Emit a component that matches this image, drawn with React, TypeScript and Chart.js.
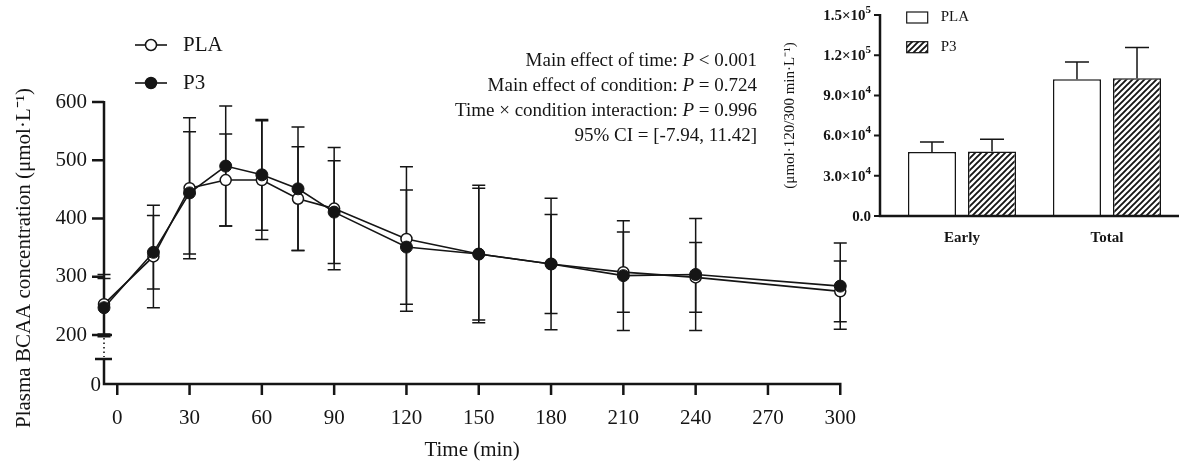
import React, { useEffect, useRef } from "react";
import { Chart, registerables } from "chart.js";

Chart.register(...registerables);

const SERIF = '"Liberation Serif", "Times New Roman", serif';
const INK = "#151515";

// ---- Main chart (time course) ----
const timePoints = [-5.5, 15, 30, 45, 60, 75, 90, 120, 150, 180, 210, 240, 300];
const plaMean = [253, 335, 452, 466, 466, 434, 417, 365, 339, 322, 308, 299, 275];
const plaSD = [51, 88, 121, 79, 102, 89, 105, 124, 118, 85, 69, 60, 52];
const p3Mean = [247, 342, 444, 490, 475, 451, 411, 351, 339, 322, 302, 304, 284];
const p3SD = [50, 63, 105, 103, 95, 106, 88, 98, 113, 113, 94, 96, 74];
const xTicks = [0, 30, 60, 90, 120, 150, 180, 210, 240, 270, 300];
const yTicks = [200, 300, 400, 500, 600];
const xRange = [-5.5, 300];
const yRange = [116, 600];
const yBreak = [159, 200];
const seriesNames = ["PLA", "P3"];
const statLines: [string, boolean][][] = [
  [["Main effect of time: ", false], ["P", true], [" < 0.001", false]],
  [["Main effect of condition: ", false], ["P", true], [" = 0.724", false]],
  [["Time × condition interaction: ", false], ["P", true], [" = 0.996", false]],
  [["95% CI = [-7.94, 11.42]", false]],
];
const mainYTitle = "Plasma BCAA concentration (μmol·L⁻¹)";
const mainXTitle = "Time (min)";

// ---- Inset chart (AUC) ----
const aucCategories = ["Early", "Total"];
const aucPLA = [47800, 102000];
const aucPLAErr = [7500, 13000];
const aucP3 = [48200, 102800];
const aucP3Err = [9000, 23000];
const aucTicks = [0, 30000, 60000, 90000, 120000, 150000];
const aucTickBase = ["0.0", "3.0×10", "6.0×10", "9.0×10", "1.2×10", "1.5×10"];
const aucTickExp = ["", "4", "4", "4", "5", "5"];
const aucXRange = [-0.5655, 1.4966];
const aucYTitle = "(μmol·120/300 min·L⁻¹)";

function makeHatch(): CanvasPattern | string {
  const c = document.createElement("canvas");
  c.width = 6;
  c.height = 6;
  const g = c.getContext("2d");
  if (!g) return "#888";
  g.fillStyle = "#fff";
  g.fillRect(0, 0, 6, 6);
  g.strokeStyle = INK;
  g.lineWidth = 1.9;
  g.beginPath();
  g.moveTo(0, 6);
  g.lineTo(6, 0);
  g.moveTo(-2, 2);
  g.lineTo(2, -2);
  g.moveTo(4, 8);
  g.lineTo(8, 4);
  g.stroke();
  const p = g.createPattern(c, "repeat");
  return p || "#888";
}

export default function App() {
  const mainRef = useRef<HTMLCanvasElement>(null);
  const aucRef = useRef<HTMLCanvasElement>(null);

  useEffect(() => {
    const hatch = makeHatch();

    const mainDecor = {
      id: "mainDecor",
      beforeDatasetsDraw(chart: any) {
        const { ctx, chartArea: a } = chart;
        const x = chart.scales.x;
        const y = chart.scales.y;
        ctx.save();
        ctx.strokeStyle = INK;
        ctx.lineCap = "butt";
        // error bars
        ctx.lineWidth = 1.5;
        const series = [
          { mean: plaMean, sd: plaSD },
          { mean: p3Mean, sd: p3SD },
        ];
        series.forEach((s) =>
          timePoints.forEach((t, i) => {
            const px = x.getPixelForValue(t);
            const top = y.getPixelForValue(s.mean[i] + s.sd[i]);
            const bot = y.getPixelForValue(s.mean[i] - s.sd[i]);
            ctx.beginPath();
            ctx.moveTo(px, top);
            ctx.lineTo(px, bot);
            ctx.moveTo(px - 6.5, top);
            ctx.lineTo(px + 6.5, top);
            ctx.moveTo(px - 6.5, bot);
            ctx.lineTo(px + 6.5, bot);
            ctx.stroke();
          })
        );
        // axes
        ctx.lineWidth = 2.5;
        const yb1 = y.getPixelForValue(yBreak[1]);
        const yb0 = y.getPixelForValue(yBreak[0]);
        ctx.beginPath();
        ctx.moveTo(a.left, a.top - 1);
        ctx.lineTo(a.left, yb1);
        ctx.moveTo(a.left, yb0);
        ctx.lineTo(a.left, a.bottom);
        ctx.moveTo(a.left - 1.25, a.bottom);
        ctx.lineTo(a.right + 1.25, a.bottom);
        yTicks.forEach((v) => {
          const py = y.getPixelForValue(v);
          ctx.moveTo(a.left - 12, py);
          ctx.lineTo(a.left, py);
        });
        xTicks.forEach((v) => {
          const px = x.getPixelForValue(v);
          ctx.moveTo(px, a.bottom);
          ctx.lineTo(px, a.bottom + 11);
        });
        [yb1, yb0].forEach((py) => {
          ctx.moveTo(a.left - 9, py);
          ctx.lineTo(a.left + 8, py);
        });
        ctx.stroke();
        ctx.lineWidth = 1.6;
        ctx.setLineDash([1.5, 3]);
        ctx.beginPath();
        ctx.moveTo(a.left, yb1 + 3);
        ctx.lineTo(a.left, yb0 - 2);
        ctx.stroke();
        ctx.restore();
      },
      afterDraw(chart: any) {
        const { ctx, chartArea: a } = chart;
        ctx.save();
        ctx.fillStyle = INK;
        ctx.textBaseline = "middle";
        // "0" label of broken axis
        ctx.font = `21px ${SERIF}`;
        ctx.textAlign = "right";
        ctx.fillText("0", a.left - 3, a.bottom + 1);
        // y title
        ctx.save();
        ctx.translate(24, 258);
        ctx.rotate(-Math.PI / 2);
        ctx.textAlign = "center";
        ctx.fillText(mainYTitle, 0, 0);
        ctx.restore();
        // legend
        ctx.textAlign = "left";
        chart.data.datasets.forEach((ds: any, i: number) => {
          const ly = 45 + i * 38;
          ctx.strokeStyle = INK;
          ctx.lineWidth = 1.6;
          ctx.beginPath();
          ctx.moveTo(135, ly);
          ctx.lineTo(167, ly);
          ctx.stroke();
          ctx.beginPath();
          ctx.arc(151, ly, 5.5, 0, Math.PI * 2);
          ctx.fillStyle = ds.pointBackgroundColor;
          ctx.fill();
          ctx.lineWidth = 1.5;
          ctx.stroke();
          ctx.fillStyle = INK;
          ctx.font = `21px ${SERIF}`;
          ctx.fillText(ds.label, 183, ly);
        });
        // stats
        statLines.forEach((segs, li) => {
          const fonts = segs.map((s) => `${s[1] ? "italic " : ""}19px ${SERIF}`);
          let total = 0;
          const widths = segs.map((s, i) => {
            ctx.font = fonts[i];
            const w = ctx.measureText(s[0]).width;
            total += w;
            return w;
          });
          let cx = 757 - total;
          segs.forEach((s, i) => {
            ctx.font = fonts[i];
            ctx.fillText(s[0], cx, 61 + li * 25);
            cx += widths[i];
          });
        });
        ctx.restore();
      },
    };

    const mainChart = new Chart(mainRef.current as HTMLCanvasElement, {
      type: "line",
      data: {
        datasets: [
          {
            label: seriesNames[0],
            data: timePoints.map((t, i) => ({ x: t, y: plaMean[i] })),
            borderColor: INK,
            borderWidth: 1.6,
            pointRadius: 5.5,
            pointBackgroundColor: "#ffffff",
            pointBorderColor: INK,
            pointBorderWidth: 1.5,
            tension: 0,
            fill: false,
            clip: false,
            order: 1,
          } as any,
          {
            label: seriesNames[1],
            data: timePoints.map((t, i) => ({ x: t, y: p3Mean[i] })),
            borderColor: INK,
            borderWidth: 1.6,
            pointRadius: 6,
            pointBackgroundColor: INK,
            pointBorderColor: INK,
            pointBorderWidth: 1,
            tension: 0,
            fill: false,
            clip: false,
            order: 0,
          } as any,
        ],
      },
      options: {
        responsive: false,
        animation: false,
        events: [],
        layout: { padding: { left: 0, top: 102, right: 26, bottom: 0 } },
        plugins: { legend: { display: false }, tooltip: { enabled: false } },
        scales: {
          x: {
            type: "linear",
            min: xRange[0],
            max: xRange[1],
            afterBuildTicks: (s: any) => {
              s.ticks = xTicks.map((v) => ({ value: v }));
            },
            afterFit: (s: any) => {
              s.height = 84;
            },
            grid: { display: false },
            border: { display: false },
            ticks: {
              color: INK,
              padding: 14,
              maxRotation: 0,
              font: { family: SERIF, size: 21 },
              callback: (v: any) => String(v),
            },
            title: {
              display: true,
              text: mainXTitle,
              color: INK,
              font: { family: SERIF, size: 21 },
              padding: { top: 0, bottom: 5 },
            },
          },
          y: {
            type: "linear",
            min: yRange[0],
            max: yRange[1],
            afterBuildTicks: (s: any) => {
              s.ticks = yTicks.map((v) => ({ value: v }));
            },
            afterFit: (s: any) => {
              s.width = 104;
            },
            grid: { display: false },
            border: { display: false },
            ticks: {
              color: INK,
              padding: 9,
              font: { family: SERIF, size: 21 },
              callback: (v: any) => String(v),
            },
          },
        },
      },
      plugins: [mainDecor],
    } as any);

    const aucDecor = {
      id: "aucDecor",
      afterDatasetsDraw(chart: any) {
        const { ctx, chartArea: a } = chart;
        const y = chart.scales.y;
        ctx.save();
        ctx.strokeStyle = INK;
        ctx.lineWidth = 1.5;
        const vals = [aucPLA, aucP3];
        const errs = [aucPLAErr, aucP3Err];
        [0, 1].forEach((d) => {
          const meta = chart.getDatasetMeta(d);
          meta.data.forEach((el: any, i: number) => {
            const top = y.getPixelForValue(vals[d][i] + errs[d][i]);
            ctx.beginPath();
            ctx.moveTo(el.x, el.y);
            ctx.lineTo(el.x, top);
            ctx.moveTo(el.x - 12, top);
            ctx.lineTo(el.x + 12, top);
            ctx.stroke();
          });
        });
        ctx.lineWidth = 2.5;
        ctx.beginPath();
        ctx.moveTo(a.left, a.top - 1);
        ctx.lineTo(a.left, a.bottom);
        ctx.moveTo(a.left - 1.25, a.bottom);
        ctx.lineTo(a.right, a.bottom);
        ctx.stroke();
        ctx.lineWidth = 2;
        ctx.beginPath();
        aucTicks.forEach((v) => {
          const py = y.getPixelForValue(v);
          ctx.moveTo(a.left - 6, py);
          ctx.lineTo(a.left, py);
        });
        ctx.stroke();
        ctx.restore();
      },
      afterDraw(chart: any) {
        const { ctx, chartArea: a } = chart;
        const y = chart.scales.y;
        ctx.save();
        ctx.textBaseline = "middle";
        ctx.textAlign = "left";
        ctx.fillStyle = INK;
        // y tick labels with superscript exponents
        aucTicks.forEach((v, i) => {
          const py = y.getPixelForValue(v);
          const right = a.left - 9;
          ctx.font = `bold 11px ${SERIF}`;
          const ew = aucTickExp[i] ? ctx.measureText(aucTickExp[i]).width : 0;
          ctx.fillText(aucTickExp[i], right - ew, py - 5);
          ctx.font = `bold 15px ${SERIF}`;
          const bw = ctx.measureText(aucTickBase[i]).width;
          ctx.fillText(aucTickBase[i], right - ew - bw, py + 1);
        });
        // legend
        chart.data.datasets.forEach((ds: any, i: number) => {
          const by = 12 + i * 29.7;
          ctx.fillStyle = ds.backgroundColor;
          ctx.fillRect(126.7, by, 21, 11);
          ctx.strokeStyle = INK;
          ctx.lineWidth = 1.2;
          ctx.strokeRect(126.7, by, 21, 11);
          ctx.fillStyle = INK;
          ctx.font = `15px ${SERIF}`;
          ctx.fillText(ds.label, 160.7, by + 5.5);
        });
        ctx.restore();
      },
    };

    const aucChart = new Chart(aucRef.current as HTMLCanvasElement, {
      type: "bar",
      data: {
        datasets: [
          {
            label: seriesNames[0],
            data: aucPLA.map((v, i) => ({ x: i, y: v })),
            backgroundColor: "#ffffff",
            borderColor: INK,
            borderWidth: 1.5,
            categoryPercentage: 0.828,
            barPercentage: 0.8,
          } as any,
          {
            label: seriesNames[1],
            data: aucP3.map((v, i) => ({ x: i, y: v })),
            backgroundColor: hatch,
            borderColor: INK,
            borderWidth: 1.5,
            categoryPercentage: 0.828,
            barPercentage: 0.8,
          } as any,
        ],
      },
      options: {
        responsive: false,
        animation: false,
        events: [],
        layout: { padding: { left: 0, top: 15, right: 0, bottom: 0 } },
        plugins: { legend: { display: false }, tooltip: { enabled: false } },
        scales: {
          x: {
            type: "linear",
            min: aucXRange[0],
            max: aucXRange[1],
            offset: false,
            afterBuildTicks: (s: any) => {
              s.ticks = aucCategories.map((_, i) => ({ value: i }));
            },
            afterFit: (s: any) => {
              s.height = 44;
            },
            grid: { display: false },
            border: { display: false },
            ticks: {
              color: INK,
              padding: 5,
              maxRotation: 0,
              font: { family: SERIF, size: 15, weight: "bold" },
              callback: (v: any) => aucCategories[Math.round(v)] ?? "",
            },
          },
          y: {
            type: "linear",
            min: aucTicks[0],
            max: aucTicks[aucTicks.length - 1],
            afterBuildTicks: (s: any) => {
              s.ticks = aucTicks.map((v) => ({ value: v }));
            },
            afterFit: (s: any) => {
              s.width = 100;
            },
            grid: { display: false },
            border: { display: false },
            ticks: {
              display: false,
            },
            title: {
              display: true,
              text: aucYTitle,
              color: INK,
              font: { family: SERIF, size: 15 },
              padding: { top: 1, bottom: 0 },
            },
          },
        },
      },
      plugins: [aucDecor],
    } as any);

    return () => {
      mainChart.destroy();
      aucChart.destroy();
    };
  }, []);

  return (
    <div
      style={{
        position: "absolute",
        left: 0,
        top: 0,
        width: 1179,
        height: 468,
        overflow: "hidden",
        background: "#ffffff",
      }}
    >
      <canvas
        ref={mainRef}
        width={870}
        height={468}
        style={{ position: "absolute", left: 0, top: 0, width: 870, height: 468 }}
      />
      <canvas
        ref={aucRef}
        width={399}
        height={260}
        style={{ position: "absolute", left: 780, top: 0, width: 399, height: 260 }}
      />
    </div>
  );
}
